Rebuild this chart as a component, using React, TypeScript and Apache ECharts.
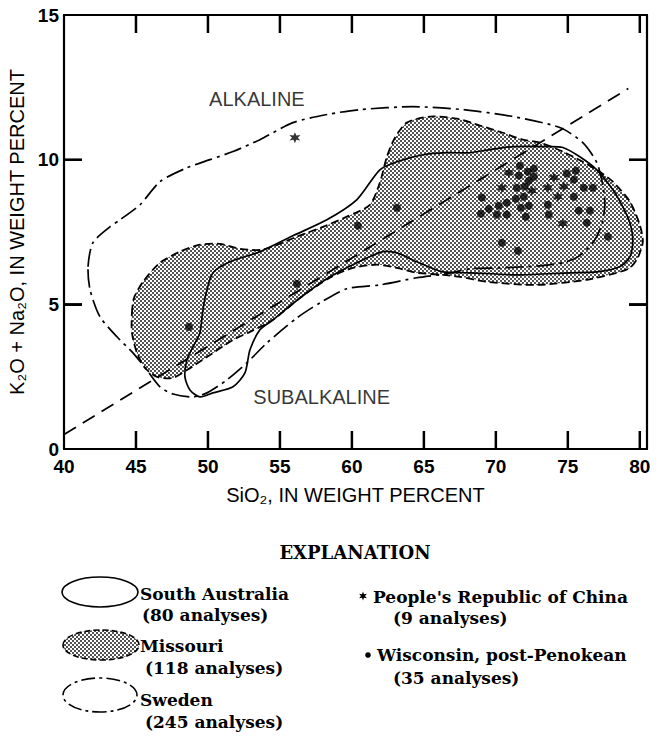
import React, { useEffect, useRef } from "react";
import * as echarts from "echarts";

// ---- axes ----
const xTicks = [40, 45, 50, 55, 60, 65, 70, 75, 80];
const yTicks = [0, 5, 10, 15];
const xRange = [40, 80.5];
const yRange = [0, 15];
const tickStep = 5;

// ---- field outlines (SiO2, K2O+Na2O) ----
const southAustralia = [
  [60.35, 8.62], [58.26, 7.92], [55.9, 7.37], [53.61, 6.82], [51.53, 6.47], [50.35, 6.09],
  [49.93, 5.5], [49.65, 4.81], [49.44, 4.01], [48.96, 3.53], [48.54, 3.08], [48.4, 2.49],
  [48.75, 2.04], [49.44, 1.8], [50.35, 1.94], [51.74, 2.15], [52.57, 2.63], [52.92, 3.43],
  [53.61, 4.12], [54.51, 4.46], [56.39, 5.22], [58.47, 5.95], [60.35, 6.44], [62.15, 6.82],
  [63.13, 6.78], [64.51, 6.47], [66.32, 6.12], [68.19, 6.09], [71.67, 6.02], [75.14, 6.09],
  [77.01, 6.12], [78.61, 6.3], [79.31, 6.64], [79.51, 7.23], [79.31, 7.82], [78.82, 8.37],
  [78.13, 8.96], [77.01, 9.65], [75.83, 10.1], [74.65, 10.42], [73.54, 10.45], [71.18, 10.45],
  [69.58, 10.35], [68.19, 10.24], [66.6, 10.24], [64.93, 10.17], [63.13, 9.93], [61.94, 9.65],
];

const missouri = [
  [44.72, 4.71], [44.86, 5.22], [45.49, 5.78], [46.67, 6.44], [48.06, 6.82], [49.44, 7.06],
  [50.83, 7.09], [52.22, 6.92], [53.82, 6.89], [56.18, 7.34], [57.99, 7.68], [59.65, 8.03],
  [61.25, 8.44], [61.94, 9.2], [62.43, 10.1], [62.99, 10.76], [63.82, 11.28], [65.42, 11.49],
  [67.29, 11.42], [68.89, 11.18], [70.49, 10.93], [71.88, 10.69], [73.06, 10.59], [74.65, 10.28],
  [76.04, 9.93], [77.22, 9.58], [78.13, 9.24], [79.31, 8.55], [80.0, 7.75], [80.21, 7.16],
  [79.86, 6.61], [79.31, 6.26], [78.4, 6.09], [76.32, 5.85], [72.85, 5.67], [69.38, 5.78],
  [67.5, 5.95], [66.32, 6.02], [64.51, 6.09], [63.13, 6.26], [61.74, 6.37], [60.07, 6.26],
  [58.47, 5.92], [56.39, 5.22], [54.51, 4.46], [52.92, 4.05], [51.74, 3.77], [49.93, 3.18],
  [48.54, 2.73], [47.57, 2.46], [46.46, 2.49], [45.63, 2.8], [45.07, 3.32], [44.72, 4.01],
];

const sweden = [
  [41.67, 6.3], [42.01, 7.13], [43.19, 7.68], [43.89, 7.92], [45.28, 8.44], [46.67, 9.24],
  [48.54, 9.72], [50.14, 10.0], [51.74, 10.28], [53.61, 10.69], [55.9, 11.28], [58.26, 11.56],
  [60.56, 11.73], [64.24, 11.83], [67.71, 11.73], [71.18, 11.49], [74.44, 11.11], [76.04, 10.59],
  [77.01, 9.9], [77.43, 9.13], [77.57, 8.44], [77.36, 7.75], [76.74, 7.13], [75.69, 6.64],
  [74.65, 6.44], [73.06, 6.33], [70.28, 6.26], [68.19, 6.23], [66.6, 6.06], [64.51, 5.92],
  [61.94, 5.67], [59.65, 5.54], [57.78, 5.05], [56.18, 4.53], [54.1, 3.67], [52.71, 2.98],
  [51.32, 2.39], [49.93, 1.94], [48.96, 1.8], [47.57, 1.9], [46.67, 2.15], [45.76, 2.73],
  [44.79, 3.32], [43.68, 3.88], [42.5, 4.57], [41.81, 5.5],
];

// ---- sample points ----
const chinaPoints = [
  [70.9, 9.55], [70.42, 9.03], [72.5, 8.93], [74.03, 9.38], [74.72, 9.07],
  [73.61, 9.03], [74.31, 8.72], [74.65, 7.79], [56.04, 10.76],
];

const wisconsinPoints = [
  [71.67, 9.79], [72.22, 9.58], [72.64, 9.69], [71.6, 9.45], [72.29, 9.27], [72.64, 9.41],
  [71.46, 9.03], [72.01, 9.07], [69.03, 8.69], [70.76, 8.51], [71.39, 8.65], [71.94, 8.72],
  [70.21, 8.41], [69.51, 8.3], [71.74, 8.34], [72.29, 8.41], [68.96, 8.13], [70.07, 8.1],
  [70.76, 8.1], [72.08, 8.03], [73.61, 8.44], [73.68, 8.1], [74.93, 9.52], [75.56, 9.62],
  [75.42, 9.31], [76.11, 9.03], [76.74, 9.03], [75.42, 8.72], [75.76, 8.24], [76.53, 8.24],
  [76.32, 7.82], [77.78, 7.34], [70.42, 7.13], [71.53, 6.85], [63.13, 8.34], [60.42, 7.72],
  [56.18, 5.71], [48.68, 4.22],
];

// alkaline / subalkaline dividing line
const dividerLine = [[40, 0.5], [79.2, 12.46]];

const fieldLabels = [
  { name: "ALKALINE", value: [53.4, 12.08] },
  { name: "SUBALKALINE", value: [57.9, 1.8] },
];

const SANS = "'Liberation Sans', Arial, Helvetica, sans-serif";
const SERIF = "'DejaVu Serif', 'Liberation Serif', serif";
const STAR =
  "path://M10 0L12.25 6.1L18.66 5L14.5 10L18.66 15L12.25 13.9L10 20L7.75 13.9L1.34 15L5.5 10L1.34 5L7.75 6.1Z";
const TICK_LEN = 18;
const TICK_W = 2.5;

function makeStipple() {
  const c = document.createElement("canvas");
  c.width = 4;
  c.height = 4;
  const ctx = c.getContext("2d")!;
  ctx.fillStyle = "#000";
  ctx.beginPath();
  ctx.arc(1, 1, 0.9, 0, Math.PI * 2);
  ctx.fill();
  ctx.beginPath();
  ctx.arc(3, 3, 0.9, 0, Math.PI * 2);
  ctx.fill();
  return { image: c, repeat: "repeat", imageWidth: 4, imageHeight: 4 } as any;
}

function starPoints(cx: number, cy: number, r: number) {
  const pts: number[][] = [];
  for (let i = 0; i < 12; i++) {
    const a = (-90 + i * 30) * (Math.PI / 180);
    const rr = i % 2 === 0 ? r : r * 0.45;
    pts.push([cx + rr * Math.cos(a), cy + rr * Math.sin(a)]);
  }
  return pts;
}

export default function App() {
  const ref = useRef<HTMLDivElement>(null);
  useEffect(() => {
    if (!ref.current) return;
    const chart = echarts.init(ref.current, null, { renderer: "svg" });
    const stipple = makeStipple();

    const outline = (name: string, pts: number[][], style: any, z: number) => ({
      name,
      type: "custom",
      coordinateSystem: "cartesian2d",
      xAxisIndex: 0,
      yAxisIndex: 0,
      data: [pts[0]],
      silent: true,
      z,
      renderItem: (_p: any, api: any) => ({
        type: "polygon",
        shape: { points: pts.map((p) => api.coord(p)), smooth: 0.25 },
        style,
      }),
    });

    // frame ticks drawn as bar-shaped scatter symbols sitting on the frame
    const inner = xTicks.filter((v) => v > xRange[0]);
    const innerY = yTicks.filter((v) => v > yRange[0] && v < yRange[1]);
    const tickMark = (data: number[][], size: number[], offset: number[]) => ({
      type: "scatter",
      data,
      symbol: "rect",
      symbolSize: size,
      symbolOffset: offset,
      silent: true,
      clip: false,
      z: 20,
      itemStyle: { color: "#000", opacity: 1 },
    });

    const axisLine = { show: true, onZero: false, lineStyle: { color: "#000", width: 2.2 } };
    const tick = { show: true, inside: true, length: TICK_LEN, lineStyle: { color: "#000", width: 2 } };
    const labelStyle = { color: "#000", fontSize: 19, fontWeight: "bold", fontFamily: SANS };
    const tickFormatter = (ticks: number[]) => (v: number) =>
      ticks.indexOf(Math.round(v * 100) / 100) >= 0 ? String(v) : "";

    const legendText = (text: string, x: number, y: number, align = "left", size = 17) => ({
      type: "text",
      x,
      y,
      silent: true,
      style: {
        text,
        fill: "#000",
        fontSize: size,
        fontWeight: "bold",
        fontFamily: SERIF,
        textAlign: align,
        textVerticalAlign: "middle",
        align,
        verticalAlign: "middle",
      },
    });

    chart.setOption({
      animation: false,
      backgroundColor: "#fff",
      grid: { left: 64, top: 15, right: 18, bottom: 287, containLabel: false, outerBoundsMode: "none" } as any,
      xAxis: [
        {
          type: "value",
          min: xRange[0],
          max: xRange[1],
          interval: tickStep,
          position: "bottom",
          axisLine,
          axisTick: tick,
          axisLabel: { ...labelStyle, margin: 8, showMaxLabel: false, formatter: tickFormatter(xTicks) },
          splitLine: { show: false },
          name: "SiO\u2082, IN WEIGHT PERCENT",
          nameLocation: "middle",
          nameGap: 36,
          nameTextStyle: { color: "#000", fontSize: 20, fontFamily: SANS },
        },
        {
          type: "value",
          min: xRange[0],
          max: xRange[1],
          interval: tickStep,
          position: "top",
          axisLine,
          axisTick: tick,
          axisLabel: { show: false },
          splitLine: { show: false },
        },
      ],
      yAxis: [
        {
          type: "value",
          min: yRange[0],
          max: yRange[1],
          interval: tickStep,
          position: "left",
          axisLine,
          axisTick: tick,
          axisLabel: { ...labelStyle, margin: 5, formatter: tickFormatter(yTicks) },
          splitLine: { show: false },
          name: "K\u2082O + Na\u2082O, IN WEIGHT PERCENT",
          nameLocation: "middle",
          nameRotate: 90,
          nameGap: 34,
          nameTextStyle: { color: "#000", fontSize: 20, fontFamily: SANS },
        },
        {
          type: "value",
          min: yRange[0],
          max: yRange[1],
          interval: tickStep,
          position: "right",
          axisLine,
          axisTick: tick,
          axisLabel: { show: false },
          splitLine: { show: false },
        },
      ],
      series: [
        outline("Missouri", missouri, { fill: stipple, stroke: "#000", lineWidth: 1.8, lineDash: [8, 4] }, 1),
        outline("South Australia", southAustralia, { fill: "none", stroke: "#000", lineWidth: 1.7 }, 2),
        outline("Sweden", sweden, { fill: "none", stroke: "#000", lineWidth: 1.7, lineDash: [18, 5, 3, 5] }, 2),
        {
          type: "line",
          data: dividerLine,
          symbol: "none",
          silent: true,
          z: 3,
          lineStyle: { color: "#000", width: 1.7, type: [14, 8] },
        },
        {
          name: "Wisconsin, post-Penokean",
          type: "scatter",
          data: wisconsinPoints,
          symbol: "circle",
          symbolSize: 8,
          itemStyle: { color: "#000" },
          z: 4,
        },
        {
          name: "People's Republic of China",
          type: "scatter",
          data: chinaPoints,
          symbol: STAR,
          symbolSize: 11,
          itemStyle: { color: "#000" },
          z: 4,
        },
        {
          type: "scatter",
          data: fieldLabels,
          symbolSize: 0,
          silent: true,
          z: 5,
          label: {
            show: true,
            position: "inside",
            formatter: "{b}",
            color: "#000",
            fontSize: 20,
            fontFamily: SANS,
          },
        },
        tickMark(inner.map((v) => [v, yRange[0]]), [TICK_W, TICK_LEN], [0, -TICK_LEN / 2]),
        tickMark(inner.map((v) => [v, yRange[1]]), [TICK_W, TICK_LEN], [0, TICK_LEN / 2]),
        tickMark(innerY.map((v) => [xRange[0], v]), [TICK_LEN, TICK_W], [TICK_LEN / 2, 0]),
        tickMark(innerY.map((v) => [xRange[1], v]), [TICK_LEN, TICK_W], [-TICK_LEN / 2, 0]),
      ],
      graphic: [
        legendText("EXPLANATION", 355, 552, "center", 18),
        { type: "ellipse", silent: true, shape: { cx: 100, cy: 592, rx: 38, ry: 15 }, style: { fill: "none", stroke: "#000", lineWidth: 1.6 } },
        { type: "ellipse", silent: true, shape: { cx: 101, cy: 645, rx: 38, ry: 15 }, style: { fill: stipple, stroke: "#000", lineWidth: 1.6, lineDash: [6, 3] } },
        { type: "ellipse", silent: true, shape: { cx: 100, cy: 695, rx: 37, ry: 17 }, style: { fill: "none", stroke: "#000", lineWidth: 1.6, lineDash: [14, 4, 3, 4] } },
        legendText("South Australia", 140, 594),
        legendText("(80 analyses)", 142, 615),
        legendText("Missouri", 140, 646),
        legendText("(118 analyses)", 145, 668),
        legendText("Sweden", 140, 700),
        legendText("(245 analyses)", 145, 722),
        { type: "polygon", silent: true, shape: { points: starPoints(363, 596, 4.5) }, style: { fill: "#000" } },
        legendText("People's Republic of China", 373, 597),
        legendText("(9 analyses)", 393, 618),
        { type: "circle", silent: true, shape: { cx: 368, cy: 655, r: 2.8 }, style: { fill: "#000" } },
        legendText("Wisconsin, post-Penokean", 377, 655),
        legendText("(35 analyses)", 393, 678),
      ],
    });

    return () => chart.dispose();
  }, []);
  return (
    <div
      ref={ref}
      style={{ position: "fixed", left: 0, top: 0, width: 665, height: 736, background: "#fff" }}
    />
  );
}
